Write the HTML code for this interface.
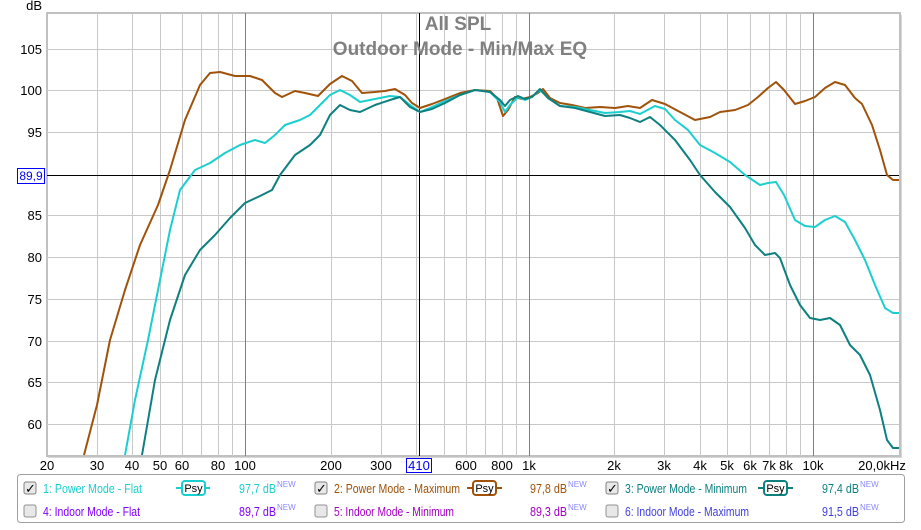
<!DOCTYPE html>
<html><head><meta charset="utf-8"><style>
body{margin:0;background:#fff;width:921px;height:525px;overflow:hidden;font-family:"Liberation Sans",sans-serif}
</style></head><body>
<svg width="921" height="525" xmlns="http://www.w3.org/2000/svg" font-family="Liberation Sans, sans-serif">
<rect x="0" y="0" width="921" height="525" fill="#fff"/>
<rect x="48" y="15" width="854" height="443" fill="#d8d8d8"/>
<rect x="47" y="13" width="853" height="443" fill="#fff" stroke="#c0c0c0" stroke-width="2"/>
<g stroke="#c8c8c8" stroke-width="1">
<line x1="47" x2="899" y1="49.5" y2="49.5"/><line x1="47" x2="899" y1="90.5" y2="90.5"/><line x1="47" x2="899" y1="132.5" y2="132.5"/>
<line x1="47" x2="899" y1="215.5" y2="215.5"/><line x1="47" x2="899" y1="257.5" y2="257.5"/><line x1="47" x2="899" y1="299.5" y2="299.5"/>
<line x1="47" x2="899" y1="341.5" y2="341.5"/><line x1="47" x2="899" y1="382.5" y2="382.5"/><line x1="47" x2="899" y1="424.5" y2="424.5"/>
<line y1="13" y2="456" x1="97.5" x2="97.5"/><line y1="13" y2="456" x1="132.5" x2="132.5"/><line y1="13" y2="456" x1="160.5" x2="160.5"/>
<line y1="13" y2="456" x1="182.5" x2="182.5"/><line y1="13" y2="456" x1="201.5" x2="201.5"/><line y1="13" y2="456" x1="218.5" x2="218.5"/><line y1="13" y2="456" x1="232.5" x2="232.5"/>
<line y1="13" y2="456" x1="331.5" x2="331.5"/><line y1="13" y2="456" x1="381.5" x2="381.5"/><line y1="13" y2="456" x1="416.5" x2="416.5"/>
<line y1="13" y2="456" x1="444.5" x2="444.5"/><line y1="13" y2="456" x1="466.5" x2="466.5"/><line y1="13" y2="456" x1="485.5" x2="485.5"/><line y1="13" y2="456" x1="502.5" x2="502.5"/><line y1="13" y2="456" x1="516.5" x2="516.5"/>
<line y1="13" y2="456" x1="614.5" x2="614.5"/><line y1="13" y2="456" x1="664.5" x2="664.5"/><line y1="13" y2="456" x1="700.5" x2="700.5"/>
<line y1="13" y2="456" x1="727.5" x2="727.5"/><line y1="13" y2="456" x1="750.5" x2="750.5"/><line y1="13" y2="456" x1="769.5" x2="769.5"/><line y1="13" y2="456" x1="786.5" x2="786.5"/><line y1="13" y2="456" x1="800.5" x2="800.5"/>
</g>
<g stroke="#808080" stroke-width="1">
<line y1="13" y2="456" x1="245.5" x2="245.5"/><line y1="13" y2="456" x1="529.5" x2="529.5"/><line y1="13" y2="456" x1="813.5" x2="813.5"/>
</g>
<line x1="47" x2="899" y1="175.5" y2="175.5" stroke="#000"/>
<line y1="13" y2="456" x1="419.5" x2="419.5" stroke="#000"/>
<text x="458" y="30" text-anchor="middle" font-size="19" font-weight="bold" fill="#808080">All SPL</text>
<text x="460" y="55" text-anchor="middle" font-size="19" font-weight="bold" fill="#808080">Outdoor Mode - Min/Max EQ</text>
<g fill="none" stroke-width="2" stroke-linejoin="round">
<polyline stroke="#a0520a" points="84,455 97,405 110,340 125,290 140,245 158,205 170,170 185,120 200,85 210,73 220,72 235,76 250,76 262,80 275,93 282,97 295,91 305,93 318,96 330,84 342,76 352,81 362,93 375,92 385,91 395,89 405,95 412,103 420,108 432,104 445,99 460,93 475,90 490,91 497,98 503,116 508,110 515,97 522,99 530,97 538,93 543,89 550,98 560,103 572,105 585,108 600,107 615,108 628,106 640,108 652,100 665,104 680,112 695,120 710,117 720,112 735,110 748,105 758,97 768,88 776,82 784,90 795,104 805,101 815,97 825,88 835,82 845,85 855,98 862,104 872,125 880,150 887,175 893,180 899,180"/>
<polyline stroke="#1ccfcf" points="125,455 135,400 148,340 160,280 170,230 180,190 195,170 210,163 225,153 240,145 255,140 265,143 275,135 285,125 300,120 310,115 320,105 330,95 340,90 350,95 360,102 375,99 390,96 400,97 410,105 420,112 432,107 445,101 460,95 475,90 490,92 500,102 505,112 510,105 518,97 525,100 532,97 540,90 548,98 560,106 575,107 590,110 605,113 620,112 630,111 640,114 655,106 665,109 675,120 688,130 700,145 715,153 730,162 745,175 760,185 768,183 776,182 784,195 795,220 805,226 815,227 825,220 835,216 845,222 855,240 865,260 875,285 885,308 893,313 899,313"/>
<polyline stroke="#0e8080" points="142,455 155,380 170,320 185,275 200,250 215,235 230,218 245,203 260,196 272,190 280,175 295,155 310,145 320,135 330,115 340,105 350,110 360,112 375,105 390,100 400,97 410,107 420,112 432,109 445,103 460,95 475,90 490,92 500,100 505,106 510,100 518,96 525,99 532,97 540,89 548,98 560,106 575,108 590,112 605,116 620,115 630,118 640,122 650,117 660,125 675,140 690,160 700,175 715,192 730,207 745,228 755,245 765,255 775,253 780,258 790,285 800,305 810,318 820,320 830,318 840,325 850,345 860,355 870,375 880,410 887,440 893,448 899,448"/>
</g>
<g font-size="13" fill="#000" text-anchor="end">
<text x="42" y="10">dB</text>
<text x="42" y="54">105</text><text x="42" y="95">100</text><text x="42" y="137">95</text>
<text x="42" y="220">85</text><text x="42" y="262">80</text><text x="42" y="304">75</text><text x="42" y="346">70</text><text x="42" y="387">65</text><text x="42" y="429">60</text>
</g>
<rect x="17.5" y="168.5" width="27" height="15" fill="#fff" stroke="#0000ff"/>
<text x="31" y="180" text-anchor="middle" font-size="12" fill="#0000ff">89,9</text>
<g font-size="13" fill="#000" text-anchor="middle">
<text x="47" y="470">20</text><text x="97" y="470">30</text><text x="132" y="470">40</text><text x="160" y="470">50</text><text x="182" y="470">60</text><text x="218" y="470">80</text><text x="245" y="470">100</text>
<text x="331" y="470">200</text><text x="381" y="470">300</text><text x="466" y="470">600</text><text x="502" y="470">800</text><text x="529" y="470">1k</text>
<text x="614" y="470">2k</text><text x="664" y="470">3k</text><text x="700" y="470">4k</text><text x="727" y="470">5k</text><text x="750" y="470">6k</text><text x="769" y="470">7k</text><text x="786" y="470">8k</text><text x="813" y="470">10k</text><text x="882" y="470">20,0kHz</text>
</g>
<rect x="406.5" y="458.5" width="25" height="14" fill="#fff" stroke="#0000ff"/>
<text x="419" y="470" text-anchor="middle" font-size="13" fill="#0000ff">410</text>
<rect x="17.5" y="474.5" width="887" height="48" rx="3" fill="#fff" stroke="#a0a0a0"/>
<g font-size="13">
<rect x="24" y="482" width="12" height="12" rx="2" fill="#e8e8e8" stroke="#808080"/><text x="25" y="493" font-size="13">✓</text>
<text x="43" y="493" fill="#1ccfcf" textLength="99" lengthAdjust="spacingAndGlyphs">1: Power Mode - Flat</text>
<line x1="176" x2="210" y1="488" y2="488" stroke="#1ccfcf" stroke-width="2"/><rect x="182" y="481" width="23" height="14" rx="3" fill="#fff" stroke="#1ccfcf" stroke-width="2"/><text x="193.5" y="492" font-size="11" text-anchor="middle">Psy</text>
<text x="239" y="493" fill="#1ccfcf" textLength="37" lengthAdjust="spacingAndGlyphs">97,7 dB</text><text x="277" y="487" font-size="8" fill="#8888ff">NEW</text>
<rect x="315" y="482" width="12" height="12" rx="2" fill="#e8e8e8" stroke="#808080"/><text x="316" y="493" font-size="13">✓</text>
<text x="334" y="493" fill="#a0520a" textLength="126" lengthAdjust="spacingAndGlyphs">2: Power Mode - Maximum</text>
<line x1="467" x2="502" y1="488" y2="488" stroke="#a0520a" stroke-width="2"/><rect x="473" y="481" width="23" height="14" rx="3" fill="#fff" stroke="#a0520a" stroke-width="2"/><text x="484.5" y="492" font-size="11" text-anchor="middle">Psy</text>
<text x="530" y="493" fill="#a0520a" textLength="37" lengthAdjust="spacingAndGlyphs">97,8 dB</text><text x="568" y="487" font-size="8" fill="#8888ff">NEW</text>
<rect x="606" y="482" width="12" height="12" rx="2" fill="#e8e8e8" stroke="#808080"/><text x="607" y="493" font-size="13">✓</text>
<text x="625" y="493" fill="#0e8080" textLength="122" lengthAdjust="spacingAndGlyphs">3: Power Mode - Minimum</text>
<line x1="758" x2="793" y1="488" y2="488" stroke="#0e8080" stroke-width="2"/><rect x="764" y="481" width="23" height="14" rx="3" fill="#fff" stroke="#0e8080" stroke-width="2"/><text x="775.5" y="492" font-size="11" text-anchor="middle">Psy</text>
<text x="822" y="493" fill="#0e8080" textLength="37" lengthAdjust="spacingAndGlyphs">97,4 dB</text><text x="860" y="487" font-size="8" fill="#8888ff">NEW</text>
<rect x="24" y="505" width="12" height="12" rx="2" fill="#e8e8e8" stroke="#909090"/>
<text x="43" y="516" fill="#8000ff" textLength="97" lengthAdjust="spacingAndGlyphs">4: Indoor Mode - Flat</text>
<text x="239" y="516" fill="#8000ff" textLength="37" lengthAdjust="spacingAndGlyphs">89,7 dB</text><text x="277" y="510" font-size="8" fill="#8888ff">NEW</text>
<rect x="315" y="505" width="12" height="12" rx="2" fill="#e8e8e8" stroke="#909090"/>
<text x="334" y="516" fill="#a000c0" textLength="120" lengthAdjust="spacingAndGlyphs">5: Indoor Mode - Minimum</text>
<text x="530" y="516" fill="#a000c0" textLength="37" lengthAdjust="spacingAndGlyphs">89,3 dB</text><text x="568" y="510" font-size="8" fill="#8888ff">NEW</text>
<rect x="606" y="505" width="12" height="12" rx="2" fill="#e8e8e8" stroke="#909090"/>
<text x="625" y="516" fill="#4040e0" textLength="124" lengthAdjust="spacingAndGlyphs">6: Indoor Mode - Maximum</text>
<text x="822" y="516" fill="#4040e0" textLength="37" lengthAdjust="spacingAndGlyphs">91,5 dB</text><text x="860" y="510" font-size="8" fill="#8888ff">NEW</text>
</g>
</svg>
</body></html>
